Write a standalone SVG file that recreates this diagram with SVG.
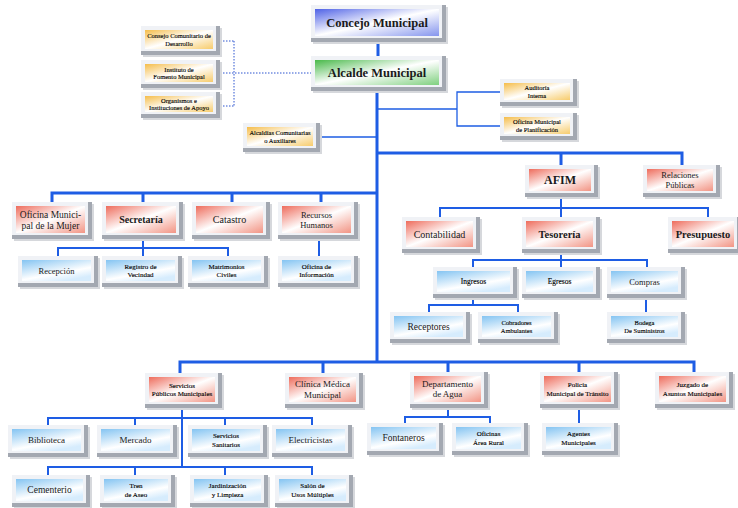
<svg xmlns="http://www.w3.org/2000/svg" width="738" height="508" viewBox="0 0 738 508">
<defs>
<linearGradient id="gB" x1="0" y1="0" x2="1" y2="1"><stop offset="0" stop-color="#4f62e6"/><stop offset="0.5" stop-color="#ffffff"/><stop offset="1" stop-color="#8595ee"/></linearGradient>
<linearGradient id="gG" x1="0" y1="0" x2="1" y2="1"><stop offset="0" stop-color="#49b94a"/><stop offset="0.5" stop-color="#ffffff"/><stop offset="1" stop-color="#7fd07f"/></linearGradient>
<linearGradient id="gR" x1="0" y1="0" x2="1" y2="1"><stop offset="0" stop-color="#ee6c5c"/><stop offset="0.5" stop-color="#ffffff"/><stop offset="1" stop-color="#f29484"/></linearGradient>
<linearGradient id="gY" x1="0" y1="0" x2="1" y2="1"><stop offset="0" stop-color="#f5bd4a"/><stop offset="0.5" stop-color="#ffffff"/><stop offset="1" stop-color="#f7cc6c"/></linearGradient>
<linearGradient id="gL" x1="0" y1="0" x2="0.6" y2="1"><stop offset="0" stop-color="#84c4f2"/><stop offset="0.7" stop-color="#ffffff"/><stop offset="1" stop-color="#d6ecfd"/></linearGradient>
</defs>
<style>
.sh{fill:#d6d8dc}
.bv{fill:#a3a8b1}
.fr{fill:#f0f2f6}
text{font-family:"Liberation Serif","Times New Roman",serif;fill:#1a1a1a;text-anchor:middle}
text[font-size="6.5"],text[font-size="7"],text[font-size="7.5"]{fill:#000;stroke:#000;stroke-width:0.12}
.b{font-weight:bold}
.c{fill:none;stroke:#1e5de4;stroke-linecap:square}
.k{stroke-width:3}
.m{stroke-width:2}
.n{stroke-width:1.3}
.d{fill:none;stroke:#2c55d0;stroke-width:1;stroke-dasharray:1.5 1.5}
</style>
<rect width="738" height="508" fill="#ffffff"/>
<g id="connectors">
<path class="c k" d="M378,42V56M377,91V362M377,153H682M561,153V165M682,153V165M52,193H377M52,193V202M143,193V202M232,193V202M321,193V202M180,362H694M180,362V373M323,362V373M448,362V372M579,362V372M694,362V372"/>
<path class="c m" d="M143,239V248M58,248H228M58,248V256M143,248V256M228,248V256M319,239V256M561,197V208M440,208H708M440,208V217M561,208V217M708,208V217M561,253V260M473,260H647M473,260V267M561,260V267M647,260V267M473,298V305M429,305H518M429,305V312M518,305V312M646,298V312M182,408V467M48,418H312M48,418V425M135,418V425M225,418V425M312,418V425M48,467H312M48,467V475M135,467V475M225,467V475M312,467V475M448,408V417M405,417H490M405,417V423M490,417V423M579,408V423"/>
<path class="c n" d="M320,137H377M377,109H457M457,92V126M457,92H500M457,126H500"/>
<path class="d" d="M220,41H234M220,106H234M234,41V106M220,73H311"/>
</g>
<g id="n-concejo" transform="translate(311,5)"><rect class="sh" x="2" y="2" width="135" height="37"/><rect class="bv" width="135" height="37"/><rect class="fr" width="131" height="33"/><rect fill="url(#gB)" x="4" y="4" width="124" height="27"/><text class="b" x="66" y="21.7" font-size="12.5">Concejo Municipal</text></g>
<g id="n-alcalde" transform="translate(311,56)"><rect class="sh" x="2" y="2" width="135" height="35"/><rect class="bv" width="135" height="35"/><rect class="fr" width="131" height="31"/><rect fill="url(#gG)" x="4" y="4" width="124" height="25"/><text class="b" x="66" y="21" font-size="12.5">Alcalde Municipal</text></g>
<g id="n-consejo" transform="translate(141,26)"><rect class="sh" x="2" y="2" width="79" height="29"/><rect class="bv" width="79" height="29"/><rect class="fr" width="75" height="25"/><rect fill="url(#gY)" x="4" y="4" width="68" height="19"/><text font-size="6.5"><tspan x="38" y="12">Consejo Comunitario de</tspan><tspan x="38" y="19.5">Desarrollo</tspan></text></g>
<g id="n-instituto" transform="translate(141,60)"><rect class="sh" x="2" y="2" width="79" height="28"/><rect class="bv" width="79" height="28"/><rect class="fr" width="75" height="24"/><rect fill="url(#gY)" x="4" y="4" width="68" height="18"/><text font-size="6.5"><tspan x="38" y="11.5">Instituto de</tspan><tspan x="38" y="19">Fomento Municipal</tspan></text></g>
<g id="n-organismos" transform="translate(141,92)"><rect class="sh" x="2" y="2" width="79" height="26"/><rect class="bv" width="79" height="26"/><rect class="fr" width="75" height="22"/><rect fill="url(#gY)" x="4" y="4" width="68" height="16"/><text font-size="6.5"><tspan x="38" y="10.5">Organismos e</tspan><tspan x="38" y="18">Instituciones de Apoyo</tspan></text></g>
<g id="n-alcaldias" transform="translate(243,123)"><rect class="sh" x="2" y="2" width="77" height="29"/><rect class="bv" width="77" height="29"/><rect class="fr" width="73" height="25"/><rect fill="url(#gY)" x="4" y="4" width="66" height="19"/><text font-size="6.5"><tspan x="37" y="12">Alcaldías Comunitarias</tspan><tspan x="37" y="19.5">o Auxiliares</tspan></text></g>
<g id="n-auditoria" transform="translate(500,79)"><rect class="sh" x="2" y="2" width="77" height="27"/><rect class="bv" width="77" height="27"/><rect class="fr" width="73" height="23"/><rect fill="url(#gY)" x="4" y="4" width="66" height="17"/><text font-size="6.5"><tspan x="37" y="11">Auditoría</tspan><tspan x="37" y="18.5">Interna</tspan></text></g>
<g id="n-planificacion" transform="translate(500,113)"><rect class="sh" x="2" y="2" width="77" height="27"/><rect class="bv" width="77" height="27"/><rect class="fr" width="73" height="23"/><rect fill="url(#gY)" x="4" y="4" width="66" height="17"/><text font-size="6.5"><tspan x="37" y="11">Oficina Municipal</tspan><tspan x="37" y="18.5">de Planificación</tspan></text></g>
<g id="n-afim" transform="translate(525,165)"><rect class="sh" x="2" y="2" width="73" height="32"/><rect class="bv" width="73" height="32"/><rect class="fr" width="69" height="28"/><rect fill="url(#gR)" x="4" y="4" width="62" height="22"/><text class="b" x="35" y="19.2" font-size="12">AFIM</text></g>
<g id="n-relaciones" transform="translate(643,165)"><rect class="sh" x="2" y="2" width="77" height="32"/><rect class="bv" width="77" height="32"/><rect class="fr" width="73" height="28"/><rect fill="url(#gR)" x="4" y="4" width="66" height="22"/><text font-size="8.5"><tspan x="37" y="13">Relaciones</tspan><tspan x="37" y="23">Públicas</tspan></text></g>
<g id="n-contabilidad" transform="translate(402,217)"><rect class="sh" x="2" y="2" width="78" height="36"/><rect class="bv" width="78" height="36"/><rect class="fr" width="74" height="32"/><rect fill="url(#gR)" x="4" y="4" width="67" height="26"/><text x="37.5" y="20.5" font-size="10">Contabilidad</text></g>
<g id="n-tesoreria" transform="translate(522,217)"><rect class="sh" x="2" y="2" width="78" height="36"/><rect class="bv" width="78" height="36"/><rect class="fr" width="74" height="32"/><rect fill="url(#gR)" x="4" y="4" width="67" height="26"/><text class="b" x="37.5" y="20.7" font-size="10.5">Tesorería</text></g>
<g id="n-presupuesto" transform="translate(668,217)"><rect class="sh" x="2" y="2" width="73" height="36"/><rect class="bv" width="73" height="36"/><rect class="fr" width="69" height="32"/><rect fill="url(#gR)" x="4" y="4" width="62" height="26"/><text class="b" x="35" y="20.7" font-size="10.5">Presupuesto</text></g>
<g id="n-ingresos" transform="translate(433,267)"><rect class="sh" x="2" y="2" width="84" height="31"/><rect class="bv" width="84" height="31"/><rect class="fr" width="80" height="27"/><rect fill="url(#gL)" x="4" y="4" width="73" height="21"/><text x="40.5" y="17.1" font-size="7.5">Ingresos</text></g>
<g id="n-egresos" transform="translate(522,267)"><rect class="sh" x="2" y="2" width="78" height="31"/><rect class="bv" width="78" height="31"/><rect class="fr" width="74" height="27"/><rect fill="url(#gL)" x="4" y="4" width="67" height="21"/><text x="37.5" y="17.1" font-size="7.5">Egresos</text></g>
<g id="n-compras" transform="translate(607,267)"><rect class="sh" x="2" y="2" width="78" height="31"/><rect class="bv" width="78" height="31"/><rect class="fr" width="74" height="27"/><rect fill="url(#gL)" x="4" y="4" width="67" height="21"/><text x="37.5" y="17.5" font-size="8.5">Compras</text></g>
<g id="n-receptores" transform="translate(390,312)"><rect class="sh" x="2" y="2" width="80" height="31"/><rect class="bv" width="80" height="31"/><rect class="fr" width="76" height="27"/><rect fill="url(#gL)" x="4" y="4" width="69" height="21"/><text x="38.5" y="17.8" font-size="9.5">Receptores</text></g>
<g id="n-cobradores" transform="translate(478,312)"><rect class="sh" x="2" y="2" width="80" height="31"/><rect class="bv" width="80" height="31"/><rect class="fr" width="76" height="27"/><rect fill="url(#gL)" x="4" y="4" width="69" height="21"/><text font-size="6.5"><tspan x="38.5" y="13">Cobradores</tspan><tspan x="38.5" y="20.5">Ambulantes</tspan></text></g>
<g id="n-bodega" transform="translate(607,312)"><rect class="sh" x="2" y="2" width="78" height="31"/><rect class="bv" width="78" height="31"/><rect class="fr" width="74" height="27"/><rect fill="url(#gL)" x="4" y="4" width="67" height="21"/><text font-size="6.5"><tspan x="37.5" y="13">Bodega</tspan><tspan x="37.5" y="20.5">De Suministros</tspan></text></g>
<g id="n-mujer" transform="translate(12,202)"><rect class="sh" x="2" y="2" width="80" height="37"/><rect class="bv" width="80" height="37"/><rect class="fr" width="76" height="33"/><rect fill="url(#gR)" x="4" y="4" width="69" height="27"/><text font-size="9.5"><tspan x="38.5" y="16">Oficina Munici-</tspan><tspan x="38.5" y="27">pal de la Mujer</tspan></text></g>
<g id="n-secretaria" transform="translate(102,202)"><rect class="sh" x="2" y="2" width="81" height="37"/><rect class="bv" width="81" height="37"/><rect class="fr" width="77" height="33"/><rect fill="url(#gR)" x="4" y="4" width="70" height="27"/><text class="b" x="39" y="21" font-size="10">Secretaría</text></g>
<g id="n-catastro" transform="translate(192,202)"><rect class="sh" x="2" y="2" width="78" height="37"/><rect class="bv" width="78" height="37"/><rect class="fr" width="74" height="33"/><rect fill="url(#gR)" x="4" y="4" width="67" height="27"/><text x="37.5" y="21" font-size="10">Catastro</text></g>
<g id="n-rrhh" transform="translate(278,202)"><rect class="sh" x="2" y="2" width="80" height="37"/><rect class="bv" width="80" height="37"/><rect class="fr" width="76" height="33"/><rect fill="url(#gR)" x="4" y="4" width="69" height="27"/><text font-size="8.5"><tspan x="38.5" y="15.5">Recursos</tspan><tspan x="38.5" y="25.5">Humanos</tspan></text></g>
<g id="n-recepcion" transform="translate(18,256)"><rect class="sh" x="2" y="2" width="80" height="31"/><rect class="bv" width="80" height="31"/><rect class="fr" width="76" height="27"/><rect fill="url(#gL)" x="4" y="4" width="69" height="21"/><text x="38.5" y="17.5" font-size="8.5">Recepción</text></g>
<g id="n-registro" transform="translate(102,256)"><rect class="sh" x="2" y="2" width="80" height="31"/><rect class="bv" width="80" height="31"/><rect class="fr" width="76" height="27"/><rect fill="url(#gL)" x="4" y="4" width="69" height="21"/><text font-size="7"><tspan x="38.5" y="12.7">Registro de</tspan><tspan x="38.5" y="21.2">Vecindad</tspan></text></g>
<g id="n-matrimonios" transform="translate(188,256)"><rect class="sh" x="2" y="2" width="80" height="31"/><rect class="bv" width="80" height="31"/><rect class="fr" width="76" height="27"/><rect fill="url(#gL)" x="4" y="4" width="69" height="21"/><text font-size="7"><tspan x="38.5" y="12.7">Matrimonios</tspan><tspan x="38.5" y="21.2">Civiles</tspan></text></g>
<g id="n-informacion" transform="translate(278,256)"><rect class="sh" x="2" y="2" width="80" height="31"/><rect class="bv" width="80" height="31"/><rect class="fr" width="76" height="27"/><rect fill="url(#gL)" x="4" y="4" width="69" height="21"/><text font-size="7"><tspan x="38.5" y="12.7">Oficina de</tspan><tspan x="38.5" y="21.2">Información</tspan></text></g>
<g id="n-servicios" transform="translate(145,373)"><rect class="sh" x="2" y="2" width="77" height="35"/><rect class="bv" width="77" height="35"/><rect class="fr" width="73" height="31"/><rect fill="url(#gR)" x="4" y="4" width="66" height="25"/><text font-size="7"><tspan x="37" y="14.7">Servicios</tspan><tspan x="37" y="23.2">Públicos Municipales</tspan></text></g>
<g id="n-clinica" transform="translate(285,373)"><rect class="sh" x="2" y="2" width="78" height="35"/><rect class="bv" width="78" height="35"/><rect class="fr" width="74" height="31"/><rect fill="url(#gR)" x="4" y="4" width="67" height="25"/><text font-size="9"><tspan x="37.5" y="14.4">Clínica Médica</tspan><tspan x="37.5" y="24.9">Municipal</tspan></text></g>
<g id="n-agua" transform="translate(410,372)"><rect class="sh" x="2" y="2" width="78" height="36"/><rect class="bv" width="78" height="36"/><rect class="fr" width="74" height="32"/><rect fill="url(#gR)" x="4" y="4" width="67" height="26"/><text font-size="9"><tspan x="37.5" y="14.9">Departamento</tspan><tspan x="37.5" y="25.4">de Agua</tspan></text></g>
<g id="n-policia" transform="translate(540,372)"><rect class="sh" x="2" y="2" width="78" height="36"/><rect class="bv" width="78" height="36"/><rect class="fr" width="74" height="32"/><rect fill="url(#gR)" x="4" y="4" width="67" height="26"/><text font-size="7"><tspan x="37.5" y="15.2">Policía</tspan><tspan x="37.5" y="23.7">Municipal de Tránsito</tspan></text></g>
<g id="n-juzgado" transform="translate(655,372)"><rect class="sh" x="2" y="2" width="78" height="36"/><rect class="bv" width="78" height="36"/><rect class="fr" width="74" height="32"/><rect fill="url(#gR)" x="4" y="4" width="67" height="26"/><text font-size="7"><tspan x="37.5" y="15.2">Juzgado de</tspan><tspan x="37.5" y="23.7">Asuntos Municipales</tspan></text></g>
<g id="n-biblioteca" transform="translate(8,425)"><rect class="sh" x="2" y="2" width="80" height="32"/><rect class="bv" width="80" height="32"/><rect class="fr" width="76" height="28"/><rect fill="url(#gL)" x="4" y="4" width="69" height="22"/><text x="38.5" y="18.2" font-size="9">Biblioteca</text></g>
<g id="n-mercado" transform="translate(97,425)"><rect class="sh" x="2" y="2" width="80" height="32"/><rect class="bv" width="80" height="32"/><rect class="fr" width="76" height="28"/><rect fill="url(#gL)" x="4" y="4" width="69" height="22"/><text x="38.5" y="18.2" font-size="9">Mercado</text></g>
<g id="n-sanitarios" transform="translate(188,425)"><rect class="sh" x="2" y="2" width="79" height="32"/><rect class="bv" width="79" height="32"/><rect class="fr" width="75" height="28"/><rect fill="url(#gL)" x="4" y="4" width="68" height="22"/><text font-size="7"><tspan x="38" y="13.2">Servicios</tspan><tspan x="38" y="21.7">Sanitarios</tspan></text></g>
<g id="n-electricistas" transform="translate(272,425)"><rect class="sh" x="2" y="2" width="80" height="32"/><rect class="bv" width="80" height="32"/><rect class="fr" width="76" height="28"/><rect fill="url(#gL)" x="4" y="4" width="69" height="22"/><text x="38.5" y="18.2" font-size="9">Electricistas</text></g>
<g id="n-cementerio" transform="translate(12,475)"><rect class="sh" x="2" y="2" width="78" height="32"/><rect class="bv" width="78" height="32"/><rect class="fr" width="74" height="28"/><rect fill="url(#gL)" x="4" y="4" width="67" height="22"/><text x="37.5" y="18.3" font-size="9.5">Cementerio</text></g>
<g id="n-tren" transform="translate(100,475)"><rect class="sh" x="2" y="2" width="75" height="32"/><rect class="bv" width="75" height="32"/><rect class="fr" width="71" height="28"/><rect fill="url(#gL)" x="4" y="4" width="64" height="22"/><text font-size="7"><tspan x="36" y="13.2">Tren</tspan><tspan x="36" y="21.7">de Aseo</tspan></text></g>
<g id="n-jardinizacion" transform="translate(190,475)"><rect class="sh" x="2" y="2" width="78" height="32"/><rect class="bv" width="78" height="32"/><rect class="fr" width="74" height="28"/><rect fill="url(#gL)" x="4" y="4" width="67" height="22"/><text font-size="7"><tspan x="37.5" y="13.2">Jardinización</tspan><tspan x="37.5" y="21.7">y Limpieza</tspan></text></g>
<g id="n-salon" transform="translate(275,475)"><rect class="sh" x="2" y="2" width="78" height="32"/><rect class="bv" width="78" height="32"/><rect class="fr" width="74" height="28"/><rect fill="url(#gL)" x="4" y="4" width="67" height="22"/><text font-size="7"><tspan x="37.5" y="13.2">Salón de</tspan><tspan x="37.5" y="21.7">Usos Múltiples</tspan></text></g>
<g id="n-fontaneros" transform="translate(367,423)"><rect class="sh" x="2" y="2" width="76" height="32"/><rect class="bv" width="76" height="32"/><rect class="fr" width="72" height="28"/><rect fill="url(#gL)" x="4" y="4" width="65" height="22"/><text x="36.5" y="18.3" font-size="9.5">Fontaneros</text></g>
<g id="n-rural" transform="translate(452,423)"><rect class="sh" x="2" y="2" width="76" height="32"/><rect class="bv" width="76" height="32"/><rect class="fr" width="72" height="28"/><rect fill="url(#gL)" x="4" y="4" width="65" height="22"/><text font-size="7"><tspan x="36.5" y="13.2">Oficinas</tspan><tspan x="36.5" y="21.7">Área Rural</tspan></text></g>
<g id="n-agentes" transform="translate(542,423)"><rect class="sh" x="2" y="2" width="76" height="32"/><rect class="bv" width="76" height="32"/><rect class="fr" width="72" height="28"/><rect fill="url(#gL)" x="4" y="4" width="65" height="22"/><text font-size="7"><tspan x="36.5" y="13.2">Agentes</tspan><tspan x="36.5" y="21.7">Municipales</tspan></text></g>
</svg>
